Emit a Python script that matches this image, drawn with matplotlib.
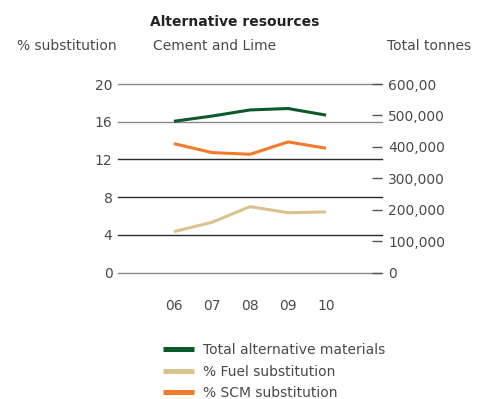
import matplotlib
matplotlib.use('Agg')
from matplotlib import pyplot as plt

plt.rcParams['font.family'] = ['DejaVu Sans']

years = ['06', '07', '08', '09', '10']
total_tonnes = [481500, 498000, 517500, 522000, 501000]
fuel_pct = [4.35, 5.34, 7.0, 6.36, 6.44]
scm_pct = [13.68, 12.73, 12.55, 13.86, 13.19]

left_ticks = [0, 4, 8, 12, 16, 20]
right_ticks = [0, 100000, 200000, 300000, 400000, 500000, 600000]
right_labels = ['0', '100,000', '200,000', '300,000', '400,000', '500,000', '600,00']

green = '#0b5a2c'
tan = '#d8c38f'
orange = '#f47a2b'
txt = '#4a4a4a'
W, H = 478, 399

fig = plt.figure(figsize=(W / 100, H / 100), dpi=100)
ax = fig.add_axes([118 / W, 1 - 272.7 / H, (382 - 118) / W, (272.7 - 84) / H])
ax2 = ax.twinx()

x = list(range(len(years)))
ax.set_xlim(-1.47, 5.47)
ax.set_ylim(0, 20)
ax2.set_ylim(0, 600000)

# horizontal grid, alternating grey and dark
for v in left_ticks:
    c = '#2b2b2b' if v in (4, 8, 12) else '#8a8a8a'
    ax.axhline(v, color=c, lw=1.0, zorder=1, clip_on=False)

fuel_line, = ax.plot(x, fuel_pct, color=tan, lw=2.2, zorder=3, solid_capstyle='butt')
scm_line, = ax.plot(x, scm_pct, color=orange, lw=2.2, zorder=3, solid_capstyle='butt')
total_line, = ax2.plot(x, total_tonnes, color=green, lw=2.2, zorder=3, solid_capstyle='butt')

for a in (ax, ax2):
    for s in a.spines.values():
        s.set_visible(False)

ax.set_yticks(left_ticks)
ax.set_yticklabels([str(v) for v in left_ticks])
ax.tick_params(axis='y', length=0, pad=4, labelsize=10, labelcolor=txt)
ax.set_xticks(x)
ax.set_xticklabels(years)
ax.tick_params(axis='x', length=0, pad=19, labelsize=10, labelcolor=txt)

ax2.set_yticks(right_ticks)
ax2.set_yticklabels(right_labels)
ax2.tick_params(axis='y', direction='in', length=7.2, width=1.0, color='#555555',
                pad=4.5, labelsize=10, labelcolor=txt)

fig.text(234.5 / W, 1 - 22 / H, 'Alternative resources', ha='center', va='center',
         fontsize=10, fontweight='bold', color='#222222')
fig.text(17 / W, 1 - 46.5 / H, '% substitution', ha='left', va='center', fontsize=10, color=txt)
fig.text(153 / W, 1 - 46.5 / H, 'Cement and Lime', ha='left', va='center', fontsize=10, color=txt)
fig.text(471 / W, 1 - 46.5 / H, 'Total tonnes', ha='right', va='center', fontsize=10, color=txt)

handles = [total_line, fuel_line, scm_line]
labels = ['Total alternative materials', '% Fuel substitution', '% SCM substitution']
leg = fig.legend(handles, labels, loc='upper left', bbox_to_anchor=(163 / W, 1 - 343 / H),
                 frameon=False, fontsize=10, handlelength=2.2, handletextpad=0.65,
                 labelspacing=0.55, borderaxespad=0, borderpad=0)
for t in leg.get_texts():
    t.set_color(txt)
for ln in leg.get_lines():
    ln.set_linewidth(3.6)

fig.savefig('out.png', dpi=100)
